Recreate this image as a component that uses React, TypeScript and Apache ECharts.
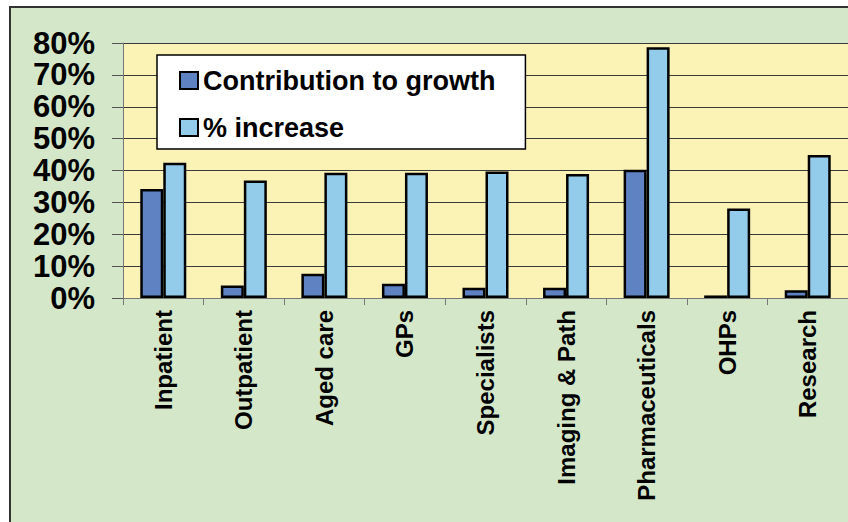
import React, { useEffect, useRef } from "react";
import * as echarts from "echarts";

const categories = [
  "Inpatient",
  "Outpatient",
  "Aged care",
  "GPs",
  "Specialists",
  "Imaging & Path",
  "Pharmaceuticals",
  "OHPs",
  "Research",
];
const contribution = [34.2, 3.9, 7.6, 4.5, 3.2, 3.2, 40.2, 0.8, 2.4];
const increase = [42.4, 36.9, 39.3, 39.3, 39.7, 38.9, 78.7, 28.1, 44.9];
const seriesNames = ["Contribution to growth", "% increase"];

export default function App() {
  const ref = useRef<HTMLDivElement>(null);
  useEffect(() => {
    if (!ref.current) return;
    const chart = echarts.init(ref.current, undefined, { renderer: "svg" });
    const font = "'Liberation Sans', Arial, sans-serif";
    chart.setOption({
      animation: false,
      backgroundColor: "#D4E8C9",
      graphic: [
        {
          type: "rect",
          silent: true,
          shape: { x: 1, y: 1, width: 1200, height: 800 },
          style: { fill: "none", stroke: "#333333", lineWidth: 2 },
          z: 100,
        },
      ],
      grid: {
        left: 114,
        top: 37,
        width: 732,
        height: 255,
        show: true,
        backgroundColor: "#FBF3B5",
        borderWidth: 0,
      },
      legend: {
        left: 148,
        top: 49,
        orient: "vertical",
        align: "left",
        icon: "rect",
        backgroundColor: "#FFFFFF",
        borderColor: "#000000",
        borderWidth: 1.5,
        padding: [12, 30, 8, 22],
        itemWidth: 18,
        itemHeight: 17,
        itemGap: 20,
        itemStyle: { borderColor: "#000000", borderWidth: 2 },
        textStyle: {
          fontSize: 27,
          fontWeight: "bold",
          fontFamily: font,
          color: "#000000",
          lineHeight: 24,
        },
        data: seriesNames,
      },
      xAxis: {
        type: "category",
        data: categories,
        axisLine: { show: true, lineStyle: { color: "#777777", width: 1 } },
        axisTick: { show: true, length: 7, lineStyle: { color: "#777777" } },
        axisLabel: {
          interval: 0,
          rotate: 90,
          margin: 12,
          fontSize: 24,
          fontWeight: "bold",
          fontFamily: font,
          color: "#000000",
        },
      },
      yAxis: {
        type: "value",
        min: 0,
        max: 80,
        interval: 10,
        axisLine: { show: true, lineStyle: { color: "#777777", width: 1 } },
        axisTick: { show: true, length: 11, lineStyle: { color: "#555555" } },
        axisLabel: {
          margin: 28,
          fontSize: 31,
          lineHeight: 28,
          fontWeight: "bold",
          fontFamily: font,
          color: "#000000",
          formatter: "{value}%",
        },
        splitLine: { show: true, lineStyle: { color: "#3a3a3a", width: 1 } },
      },
      series: [
        {
          name: seriesNames[0],
          type: "bar",
          data: contribution,
          barWidth: 23,
          barGap: "0%",
          itemStyle: { color: "#5F82C3", borderColor: "#000000", borderWidth: 2.5 },
        },
        {
          name: seriesNames[1],
          type: "bar",
          data: increase,
          barWidth: 23,
          barGap: "0%",
          itemStyle: { color: "#93CCEA", borderColor: "#000000", borderWidth: 2.5 },
        },
      ],
    });
    return () => chart.dispose();
  }, []);
  return (
    <div
      ref={ref}
      style={{ position: "absolute", left: 9, top: 6, width: 839, height: 516 }}
    />
  );
}
